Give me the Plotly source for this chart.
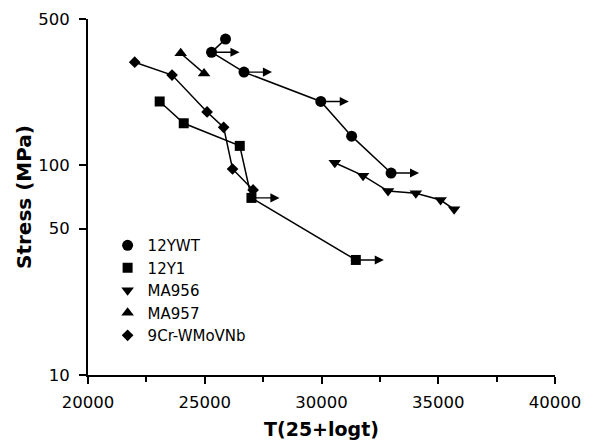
import math
import plotly.graph_objects as go

# ---- data ----
ywt_x = [25890, 25290, 26680, 29970, 31290, 32980]
ywt_y = [401, 347, 279, 202, 138, 92]
ywt_runout = [False, True, True, True, False, True]

y1_x = [23070, 24100, 26500, 27000, 31470]
y1_y = [202, 159, 124, 70, 35.4]
y1_runout = [False, False, False, True, True]

ma956_x = [30570, 31780, 32850, 34040, 35100, 35680]
ma956_y = [103, 89.4, 75.5, 73.7, 68.4, 61.8]
ma956_runout = [False] * 6

ma957_x = [23970, 24970]
ma957_y = [343, 275]
ma957_runout = [False, False]

cr9_x = [22000, 23600, 25100, 25810, 26190, 27070]
cr9_y = [311, 270, 180, 152, 96.2, 76.4]
cr9_runout = [False] * 6

series_names = ["12YWT", "12Y1", "MA956", "MA957", "9Cr-WMoVNb"]

x_ticks = [20000, 25000, 30000, 35000, 40000]
y_ticks = [10, 50, 100, 500]

# ---- styling ----
FONT = "DejaVu Sans"
BLACK = "black"
ARROW_LEN = 1200  # in x-axis units

series = [
    (series_names[0], ywt_x, ywt_y, ywt_runout, "circle", 11),
    (series_names[1], y1_x, y1_y, y1_runout, "square", 10),
    (series_names[2], ma956_x, ma956_y, ma956_runout, "triangle-down", 11),
    (series_names[3], ma957_x, ma957_y, ma957_runout, "triangle-up", 11),
    (series_names[4], cr9_x, cr9_y, cr9_runout, "diamond", 9),
]

fig = go.Figure()
annotations = []
for name, xs, ys, runout, symbol, size in series:
    fig.add_trace(go.Scatter(
        x=xs, y=ys, mode="lines", line=dict(color=BLACK, width=1.5),
        showlegend=False, hoverinfo="skip"))
    fig.add_trace(go.Scatter(
        x=xs, y=ys, mode="markers", name=name,
        marker=dict(symbol=symbol, size=size, color=BLACK,
                    line=dict(width=0))))
    for xv, yv, ro in zip(xs, ys, runout):
        if ro:
            annotations.append(dict(
                x=xv + ARROW_LEN, y=math.log10(yv), xref="x", yref="y",
                ax=xv, ay=math.log10(yv), axref="x", ayref="y",
                showarrow=True, arrowhead=2, arrowsize=1.3, arrowwidth=1.4,
                arrowcolor=BLACK, text=""))

# page body has an 8px offset; margins compensate so the plot area sits
# at x 88-555, y 19-375 in the window
fig.update_layout(
    width=595, height=444,
    margin=dict(l=80, r=48, t=11, b=77),
    paper_bgcolor="white", plot_bgcolor="white",
    font=dict(family=FONT, size=16, color=BLACK),
    annotations=annotations,
    legend=dict(x=0.042, y=0.41, xanchor="left", yanchor="top",
                bgcolor="rgba(0,0,0,0)", borderwidth=0,
                font=dict(family=FONT, size=15, color=BLACK),
                tracegroupgap=0, itemwidth=30),
    showlegend=True,
)

fig.update_xaxes(
    range=[20000, 40000], tickvals=x_ticks,
    ticktext=[str(v) for v in x_ticks],
    showgrid=False, zeroline=False, automargin=False,
    showline=True, linecolor=BLACK, linewidth=2,
    ticks="outside", ticklen=7, tickwidth=1.5, tickcolor=BLACK,
    ticklabelstandoff=4,
    minor=dict(dtick=2500, tick0=20000, ticks="outside", ticklen=5,
               tickwidth=1.5, tickcolor=BLACK, showgrid=False),
    tickfont=dict(family=FONT, size=16.5),
    title=dict(text="<b>T(25+logt)</b>", standoff=12,
               font=dict(family=FONT, size=19)),
)

fig.update_yaxes(
    type="log", range=[1, math.log10(500)],
    tickvals=y_ticks, ticktext=[str(v) for v in y_ticks],
    showgrid=False, zeroline=False, automargin=False,
    showline=True, linecolor=BLACK, linewidth=2,
    ticks="outside", ticklen=7, tickwidth=1.5, tickcolor=BLACK,
    ticklabelstandoff=6,
    tickfont=dict(family=FONT, size=16.5),
    title=dict(text="<b>Stress (MPa)</b>", standoff=1,
               font=dict(family=FONT, size=20)),
)

fig.write_html("out.html")
